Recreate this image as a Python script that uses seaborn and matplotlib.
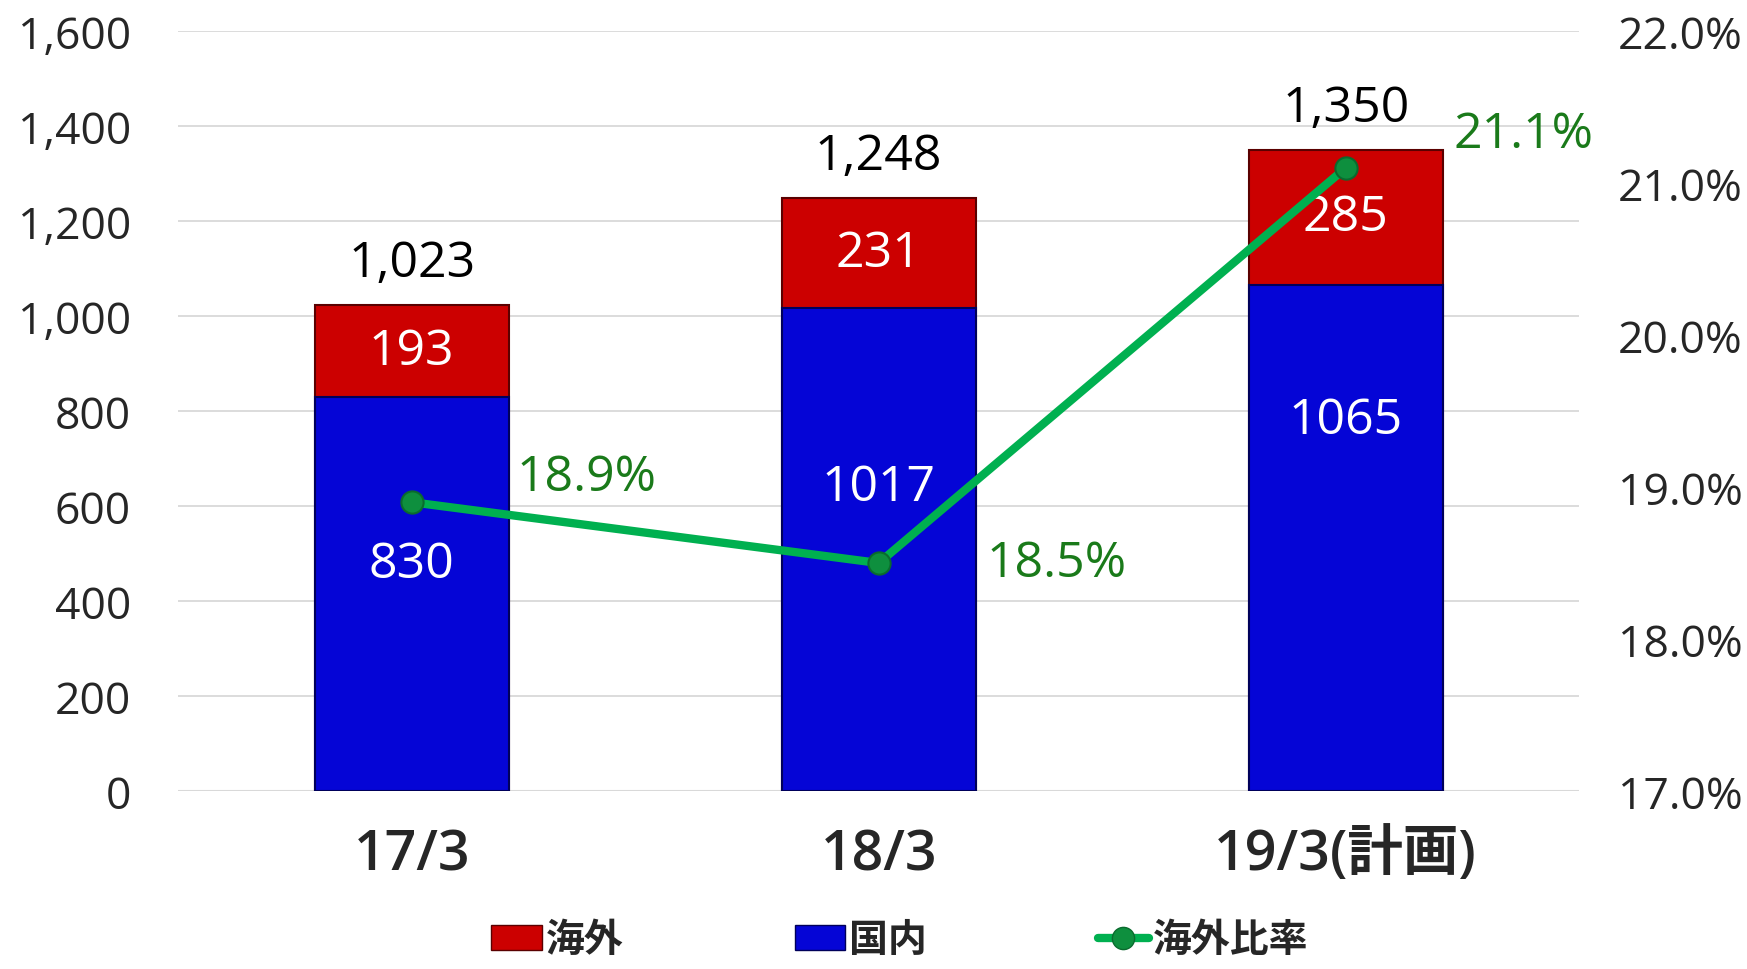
import matplotlib
matplotlib.use("Agg")
import matplotlib.pyplot as plt
from matplotlib.patches import Patch
from matplotlib.lines import Line2D
import pandas as pd
import seaborn as sns

# data
periods = ["17/3", "18/3", "19/3(計画)"]
domestic = [830, 1017, 1065]      # 国内
overseas = [193, 231, 285]        # 海外
totals = [1023, 1248, 1350]
overseas_ratio = [18.9, 18.5, 21.1]  # 海外比率 (%)

# where the domestic numbers sit inside the blue bars (data units)
domestic_label_y = [478, 640, 781]
ratio_label_offsets = [(126, 18), (128, 0), (128, 24)]  # points

sns.set_theme(style="white")
plt.rcParams["font.family"] = ["Open Sans", "Noto Sans CJK JP", "DejaVu Sans"]

RED = "#CC0000"
BLUE = "#0505D6"
GREEN = "#00B050"
DKGREEN = "#1A7A1A"

df = pd.DataFrame({"period": periods, "domestic": domestic,
                   "overseas": overseas, "total": totals,
                   "ratio": overseas_ratio})

fig = plt.figure(figsize=(17.47, 9.70), dpi=100)
ax = fig.add_axes([0.102, 0.1835, 0.802, 0.7835])

sns.barplot(data=df, x="period", y="total", color=RED, saturation=1,
            width=0.415, edgecolor="#5a0000", linewidth=1.5, ax=ax, zorder=2)
sns.barplot(data=df, x="period", y="domestic", color=BLUE, saturation=1,
            width=0.415, edgecolor="#00005a", linewidth=1.5, ax=ax, zorder=3)

ax.set_ylim(0, 1600)
ax.set_yticks(range(0, 1601, 200))
ax.set_yticklabels([f"{v:,}" for v in range(0, 1601, 200)], fontsize=32)
ax.yaxis.grid(True, color="#D9D9D9", linewidth=1.3, zorder=0)
ax.set_axisbelow(True)
ax.tick_params(axis="y", length=0, pad=34)
ax.tick_params(axis="x", length=0, pad=26)
for lab in ax.get_xticklabels():
    lab.set_fontsize(40)
    lab.set_fontweight("semibold")
ax.set_xlabel("")
ax.set_ylabel("")
for s in ax.spines.values():
    s.set_visible(False)
ax.axhline(0, color="#D9D9D9", linewidth=1.5, zorder=1)

for i in range(len(periods)):
    ax.text(i, domestic[i] + overseas[i] / 2, f"{overseas[i]}", color="white",
            fontsize=36, ha="center", va="center", zorder=5)
    ax.text(i, domestic_label_y[i], f"{domestic[i]}", color="white",
            fontsize=36, ha="center", va="center", zorder=5)
    ax.annotate(f"{totals[i]:,}", (i, totals[i]), xytext=(0, 30),
                textcoords="offset points", ha="center", va="center",
                fontsize=36, color="black")

ax2 = ax.twinx()
sns.pointplot(data=df, x="period", y="ratio", color=GREEN, markers="o",
              linewidth=6, markersize=16, ax=ax2)
for line in ax2.lines:
    line.set_markerfacecolor("#0E8F3E")
    line.set_markeredgecolor("#0A6B2E")
    line.set_markeredgewidth(1.5)
ax2.set_ylim(17, 22)
ax2.set_yticks([17, 18, 19, 20, 21, 22])
ax2.set_yticklabels([f"{v:.1f}%" for v in [17, 18, 19, 20, 21, 22]], fontsize=32)
ax2.tick_params(axis="y", length=0, pad=28)
ax2.set_ylabel("")
ax2.set_xlabel("")
for s in ax2.spines.values():
    s.set_visible(False)
ax2.grid(False)

for i, (dx, dy) in enumerate(ratio_label_offsets):
    ax2.annotate(f"{overseas_ratio[i]}%", (i, overseas_ratio[i]), xytext=(dx, dy),
                 textcoords="offset points", ha="center", va="center",
                 fontsize=36, color=DKGREEN, fontweight="medium")

ax.set_xlim(-0.5, 2.5)
ax2.set_xlim(-0.5, 2.5)

handles = [
    Patch(facecolor=RED, edgecolor="#5a0000"),
    Patch(facecolor=BLUE, edgecolor="#00005a"),
    Line2D([0], [0], color=GREEN, linewidth=6, marker="o", markersize=16,
           markerfacecolor="#0E8F3E", markeredgecolor="#0A6B2E"),
]
fig.legend(handles, ["海外", "国内", "海外比率"], loc="center",
           bbox_to_anchor=(0.515, 0.03), ncol=3, frameon=False,
           prop={"family": ["Noto Sans CJK JP"], "size": 28, "weight": "bold"},
           handlelength=1.3, handleheight=0.6, handletextpad=0.1,
           columnspacing=4.4)

fig.savefig("out.png", dpi=100)
